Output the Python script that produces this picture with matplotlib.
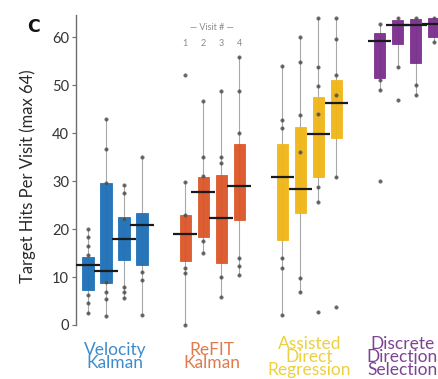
import matplotlib
matplotlib.use("Agg")
import matplotlib.pyplot as plt

# Decoders and colours
decoders = ["Velocity\nKalman", "ReFIT\nKalman", "Assisted\nDirect\nRegression",
            "Discrete\nDirection\nSelection"]
box_colors = ["#1c6fb6", "#db5527", "#f0b516", "#7a2d8c"]
label_colors = ["#3c8ccc", "#e07a4c", "#ecd040", "#7d4495"]
visits = ["1", "2", "3", "4"]

# Box statistics per decoder (one value per visit)
q1 = [[7.3, 8.7, 13.5, 12.5],
      [13.4, 18.4, 12.9, 21.9],
      [17.7, 23.3, 30.9, 38.9],
      [51.4, 58.6, 54.5, 60.0]]
medians = [[12.4, 11.3, 17.9, 20.8],
           [18.9, 27.8, 22.4, 29.0],
           [30.9, 28.3, 39.9, 46.3],
           [59.2, 62.6, 62.6, 62.8]]
q3 = [[14.2, 29.5, 22.6, 23.4],
      [22.9, 30.8, 31.3, 37.8],
      [37.8, 41.2, 47.6, 51.0],
      [60.8, 63.5, 63.8, 64.0]]
whisker_low = [[2.6, 1.9, 5.6, 2.1],
               [0.0, 15.0, 5.9, 10.4],
               [2.1, 6.9, 25.7, 30.9],
               [49.0, 53.8, 47.9, 59.0]]
whisker_high = [[20.1, 43.0, 29.2, 35.1],
                [29.7, 46.7, 48.8, 55.8],
                [54.0, 60.0, 64.0, 64.0],
                [62.8, 64.0, 64.0, 64.0]]

# Individual visit scores shown as dots
points = [
    [[20.1, 18.4, 16.5, 14.5, 6.2, 4.5, 2.6],
     [43.0, 36.7, 29.5, 9.0, 6.9, 5.5, 1.9],
     [29.2, 27.5, 22.0, 8.0, 6.9, 5.6],
     [35.1, 11.1, 9.4, 2.1]],
    [[52.0, 29.7, 22.9, 11.8, 10.8, 0.0],
     [46.7, 35.0, 31.0, 17.4, 15.0],
     [48.8, 35.0, 33.7, 9.9, 5.9],
     [55.8, 48.8, 40.0, 13.9, 12.2, 10.4]],
    [[54.0, 42.7, 41.0, 14.0, 11.9, 2.1],
     [60.0, 54.9, 43.8, 36.0, 9.8, 6.9],
     [64.0, 53.8, 49.8, 44.0, 28.8, 25.7, 2.8],
     [64.0, 59.7, 52.0, 47.9, 30.9, 3.8]],
    [[62.8, 51.0, 49.0, 30.0],
     [63.9, 53.8, 46.9],
     [63.9, 50.0, 47.9],
     [63.9, 59.0]],
]

group_gap = 5.4
box_width = 0.62
median_half = 0.65

fig = plt.figure(figsize=(4.39, 3.79), dpi=100)
ax = fig.add_axes([0.1731, 0.1425, 0.8269, 0.8179])

for g, color in enumerate(box_colors):
    pos = [g * group_gap + k for k in range(len(visits))]
    stats = []
    for k in range(len(visits)):
        stats.append(dict(med=medians[g][k], q1=q1[g][k], q3=q3[g][k],
                          whislo=whisker_low[g][k], whishi=whisker_high[g][k],
                          fliers=[]))
    # whiskers first, thin grey lines behind boxes
    ax.vlines(pos, [whisker_low[g][k] for k in range(4)],
              [whisker_high[g][k] for k in range(4)],
              color="#a8a8a8", lw=0.8, zorder=1)
    ax.bxp(stats, positions=pos, widths=box_width, patch_artist=True,
           showcaps=False, showfliers=False,
           boxprops=dict(facecolor=color, edgecolor=color, lw=0.6, alpha=0.95),
           whiskerprops=dict(visible=False),
           medianprops=dict(visible=False), manage_ticks=False, zorder=2)
    for k, p in enumerate(pos):
        ys = points[g][k]
        ax.plot([p] * len(ys), ys, "o", ms=2.6, mfc="#4a4a4a", mec="#6a6a6a",
                mew=0.3, alpha=0.85, zorder=3, clip_on=False)
    ax.hlines(medians[g], [p - median_half for p in pos],
              [p + median_half for p in pos], color="#1a1a1a", lw=1.6, zorder=4)

# decoder names under each group; the last one sits flush with the right edge
label_trans = ax.get_xaxis_transform()
for g in range(len(decoders)):
    last = g == len(decoders) - 1
    x = 19.45 if last else g * group_gap + 1.5
    ax.text(x, -0.103, decoders[g], transform=label_trans,
            ha="right" if last else "center", multialignment="center",
            va="center", color=label_colors[g], fontsize=12.5,
            family="Lato", linespacing=0.78, clip_on=False)

# visit index legend above the ReFIT group
refit_pos = [group_gap + k for k in range(4)]
for p, v in zip(refit_pos, visits):
    ax.text(p, 58.6, v, ha="center", va="center", fontsize=6.5,
            color="#8a8a8a", family="Lato")
ax.text(group_gap + 1.5, 61.9, "— Visit # —", ha="center", va="center",
        fontsize=6.5, color="#8a8a8a", family="Lato")

ax.set_xlim(-0.667, 19.5)
ax.set_ylim(0, 64.6)
ax.set_yticks([0, 10, 20, 30, 40, 50, 60])
ax.set_xticks([])
for side in ["top", "right", "bottom"]:
    ax.spines[side].set_visible(False)
ax.spines["left"].set_color("#6d6d6d")
ax.spines["left"].set_linewidth(1.0)
ax.tick_params(axis="y", length=3, width=0.8, color="#6d6d6d",
               labelsize=10.5, labelcolor="#333333", pad=2)
for lab in ax.get_yticklabels():
    lab.set_family("Lato")
ax.set_ylabel("Target Hits Per Visit (max 64)", fontsize=12, family="Lato",
              color="#2a2a2a")
ax.yaxis.set_label_coords(-0.11, 0.48)

fig.text(0.076, 0.93, "C", fontsize=12.5, fontweight="bold",
         family="DejaVu Sans", ha="center", va="center", color="#111111")

fig.savefig("out.png", dpi=100)
